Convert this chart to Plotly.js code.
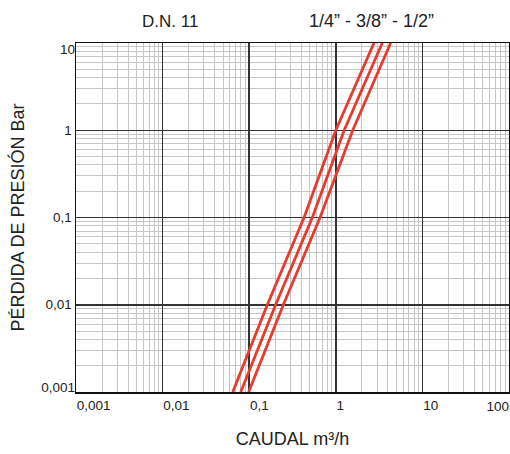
<!DOCTYPE html>
<html>
<head>
<meta charset="utf-8">
<script src="https://cdn.plot.ly/plotly-3.0.1.min.js"></script>
<style>html,body{margin:0;padding:0;background:#fff;}#chart{width:510px;height:454px;}</style>
</head>
<body>
<div id="chart"></div>
<script>
// Pressure loss (bar) points where each curve crosses a decade line
const pressure = [0.001, 0.01, 0.1, 1, 10];
// Flow (m3/h) read at those pressures
const flow_14 = [0.0646, 0.162, 0.43, 1.0, 2.76];
const flow_38 = [0.0798, 0.202, 0.536, 1.25, 3.44];
const flow_12 = [0.0986, 0.248, 0.658, 1.57, 4.30];
const seriesNames = ['1/4”', '3/8”', '1/2”'];

const xTickVals = [0.001, 0.01, 0.1, 1, 10];
const xTickText = ['0,001', '0,01', '0,1', '1', '10'];
const xLastVal = [100];
const xLastText = ['100'];
const yTickVals = [0.01, 0.1, 1];
const yTickText = ['0,01', '0,1', '1'];
const yTopVal = [10];
const yTopText = ['10'];
const yBotVal = [0.001];
const yBotText = ['0,001'];

// minor grid positions: 2..9 within each decade
const minorDigits = [2, 3, 4, 5, 6, 7, 8, 9];
const decades = [0.001, 0.01, 0.1, 1, 10];
const minorVals = [];
decades.forEach(d => minorDigits.forEach(k => minorVals.push(k * d)));

const FONT = 'Liberation Sans, Arial, sans-serif';
const RED = '#e63b2e';

const traces = [flow_14, flow_38, flow_12].map((f, i) => ({
  x: f, y: pressure, type: 'scatter', mode: 'lines', name: seriesNames[i],
  line: {color: RED, width: 2.8}, hoverinfo: 'skip'
}));
// empty helper traces so the overlay label axes get drawn
traces.push({x: [], y: [], type: 'scatter', mode: 'lines', xaxis: 'x2', yaxis: 'y', hoverinfo: 'skip'});
traces.push({x: [], y: [], type: 'scatter', mode: 'lines', xaxis: 'x', yaxis: 'y2', hoverinfo: 'skip'});
traces.push({x: [], y: [], type: 'scatter', mode: 'lines', xaxis: 'x', yaxis: 'y3', hoverinfo: 'skip'});

const minorGrid = {tickmode: 'array', tickvals: minorVals, showgrid: true, gridcolor: '#c6c6c6', gridwidth: 1, ticks: ''};

const layout = {
  width: 510, height: 454,
  margin: {l: 76, r: 1, t: 43, b: 62},
  paper_bgcolor: '#fff', plot_bgcolor: '#fff',
  showlegend: false,
  font: {family: FONT, size: 13.5, color: '#222'},
  xaxis: {
    type: 'log', range: [-3, 2],
    tickmode: 'array', tickvals: xTickVals, ticktext: xTickText,
    ticklabelposition: 'outside right', ticks: '',
    showgrid: true, gridcolor: '#333', gridwidth: 1.5,
    minor: minorGrid,
    showline: true, mirror: true, linecolor: '#111', linewidth: 1.5,
    zeroline: false,
    title: {text: 'CAUDAL m³/h', font: {size: 18, color: '#222'}, standoff: 20},
    automargin: false
  },
  xaxis2: {
    type: 'log', range: [-3, 2], overlaying: 'x', anchor: 'y', side: 'bottom',
    tickmode: 'array', tickvals: xLastVal, ticktext: xLastText,
    ticklabelposition: 'outside left', ticks: '', ticklabelstandoff: 4,
    showgrid: false, showline: false, zeroline: false, automargin: false
  },
  yaxis: {
    type: 'log', range: [-3, 1],
    tickmode: 'array', tickvals: yTickVals, ticktext: yTickText,
    ticks: '',
    showgrid: true, gridcolor: '#333', gridwidth: 1.5,
    minor: minorGrid,
    showline: true, mirror: true, linecolor: '#111', linewidth: 1.5,
    zeroline: false,
    title: {text: 'PÉRDIDA DE PRESIÓN Bar', font: {size: 18, color: '#222'}, standoff: 16},
    automargin: false
  },
  yaxis2: {
    type: 'log', range: [-3, 1], overlaying: 'y', anchor: 'x', side: 'left',
    tickmode: 'array', tickvals: yTopVal, ticktext: yTopText,
    ticklabelposition: 'outside bottom', ticks: '', ticklabelshift: -3,
    showgrid: false, showline: false, zeroline: false, automargin: false
  },
  yaxis3: {
    type: 'log', range: [-3, 1], overlaying: 'y', anchor: 'x', side: 'left',
    tickmode: 'array', tickvals: yBotVal, ticktext: yBotText,
    ticklabelposition: 'outside top', ticks: '', ticklabelshift: 5,
    showgrid: false, showline: false, zeroline: false, automargin: false
  },
  annotations: [
    {text: 'D.N. 11', xref: 'paper', yref: 'paper', x: 0.218, y: 1, yshift: 22,
     showarrow: false, xanchor: 'center', yanchor: 'middle', font: {size: 17, color: '#222'}},
    {text: '1/4” - 3/8” - 1/2”', xref: 'paper', yref: 'paper', x: 0.682, y: 1, yshift: 22,
     showarrow: false, xanchor: 'center', yanchor: 'middle', font: {size: 18, color: '#222'}}
  ]
};

Plotly.newPlot('chart', traces, layout, {staticPlot: true, displayModeBar: false});
</script>
</body>
</html>
